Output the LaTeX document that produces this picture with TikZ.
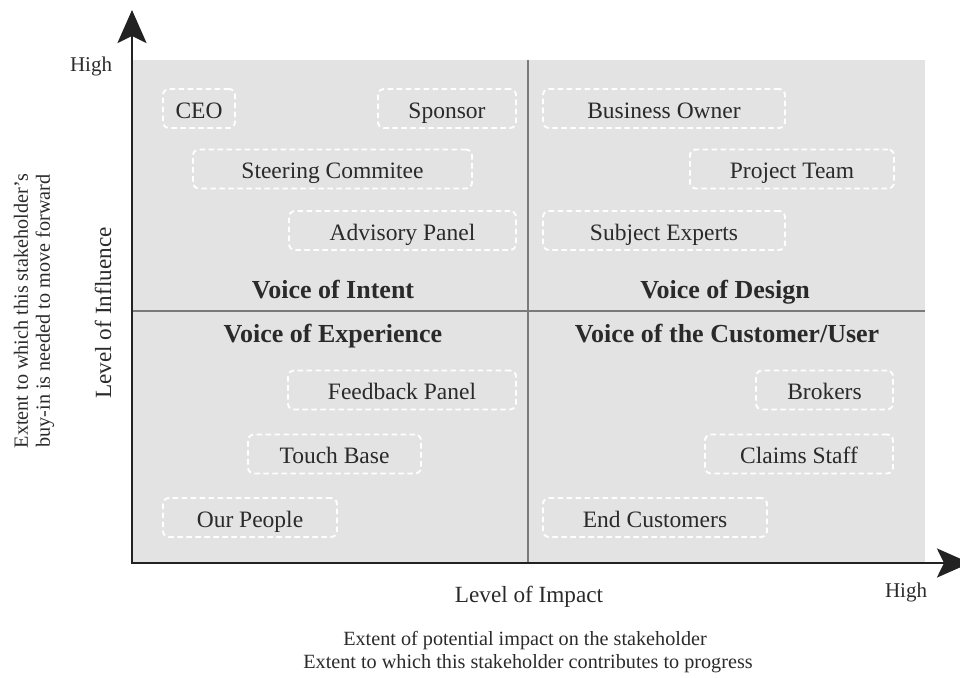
\documentclass[tikz,border=0pt]{standalone}
\usepackage{fontspec}
\setmainfont{Liberation Serif}
\usetikzlibrary{arrows.meta}
\definecolor{txt}{HTML}{2A2A2A}
\definecolor{panel}{HTML}{E3E3E3}
\definecolor{midl}{HTML}{7A7A7A}
\definecolor{axis}{HTML}{222222}
\tikzset{
  sbox/.style={draw=white, line width=1.9pt, dash pattern=on 5.5pt off 3.5pt,
    rounded corners=6pt, minimum height=39pt, inner sep=0pt, text=txt,
    text height=22pt, text depth=3pt,
    font=\fontsize{23.5}{26}\selectfont},
  voice/.style={text=txt, font=\fontsize{26}{30}\selectfont\bfseries, inner sep=0pt, anchor=base},
  axlabel/.style={text=txt, font=\fontsize{23.2}{27}\selectfont, inner sep=0pt},
  hilabel/.style={text=txt, font=\fontsize{21}{24}\selectfont, inner sep=0pt, anchor=base},
  sublabel/.style={text=txt, font=\fontsize{20.2}{23}\selectfont, inner sep=0pt},
  midline/.style={draw=midl, line width=1.1pt},
  axisline/.style={draw=axis, line width=2.6pt,
    {Stealth[length=33pt,width=29pt,inset=7pt]}-{Stealth[length=33pt,width=29pt,inset=7pt]}}
}
\begin{document}
\begin{tikzpicture}[x=1pt,y=-1pt]
\useasboundingbox (0,0) rectangle (960,677);
% panel
\fill[panel] (133,60) rectangle (925,563);
\coordinate (mtop) at (528,60);
\coordinate (mbot) at (528,563);
\coordinate (mleft) at (133,311);
\coordinate (mright) at (925,311);
\draw[midline] (mtop) -- (mbot);
\draw[midline] (mleft) -- (mright);
% axes
\coordinate (O) at (132,563);
\coordinate (ytop) at (132,10);
\coordinate (xend) at (970,563);
\draw[axisline] (ytop) -- (O) -- (xend);
% stakeholder boxes
\node[sbox, minimum width=72pt]  (ceo) at (199,108.5) {CEO};
\node[sbox, minimum width=138pt] (sponsor) at (447,108.5) {Sponsor};
\node[sbox, minimum width=279pt] (steer) at (332.5,169) {Steering Commitee};
\node[sbox, minimum width=227pt] (advisory) at (402.5,230.5) {Advisory Panel};
\node[sbox, minimum width=242pt] (bowner) at (664,108.5) {Business Owner};
\node[sbox, minimum width=204pt] (pteam) at (792,169) {Project Team};
\node[sbox, minimum width=242pt] (sexperts) at (664,230.5) {Subject Experts};
\node[sbox, minimum width=228pt] (feedback) at (402,390) {Feedback Panel};
\node[sbox, minimum width=173pt] (touch) at (334.5,454) {Touch Base};
\node[sbox, minimum width=174pt] (people) at (250,517.5) {Our People};
\node[sbox, minimum width=137pt] (brokers) at (824.5,390) {Brokers};
\node[sbox, minimum width=188pt] (claims) at (799,454) {Claims Staff};
\node[sbox, minimum width=224pt] (endc) at (655,517.5) {End Customers};
% quadrant titles
\node[voice] (vint) at (333,298) {Voice of Intent};
\node[voice] (vdes) at (725,298) {Voice of Design};
\node[voice] (vexp) at (333,342.5) {Voice of Experience};
\node[voice] (vcus) at (727,342.5) {Voice of the Customer/User};
% axis labels
\node[hilabel] (hiy) at (91,71) {High};
\node[hilabel] (hix) at (906,597) {High};
\node[axlabel, anchor=base] (limp) at (529,602) {Level of Impact};
\node[sublabel, anchor=base] (ext1) at (525,645) {Extent of potential impact on the stakeholder};
\node[sublabel, anchor=base] (ext2) at (528,668) {Extent to which this stakeholder contributes to progress};
\node[axlabel, rotate=90] (linf) at (103,313) {Level of Influence};
\node[sublabel, rotate=90] (ey1) at (21,311) {Extent to which this stakeholder’s};
\node[sublabel, rotate=90] (ey2) at (45,311) {buy-in is needed to move forward};
\end{tikzpicture}
\end{document}
